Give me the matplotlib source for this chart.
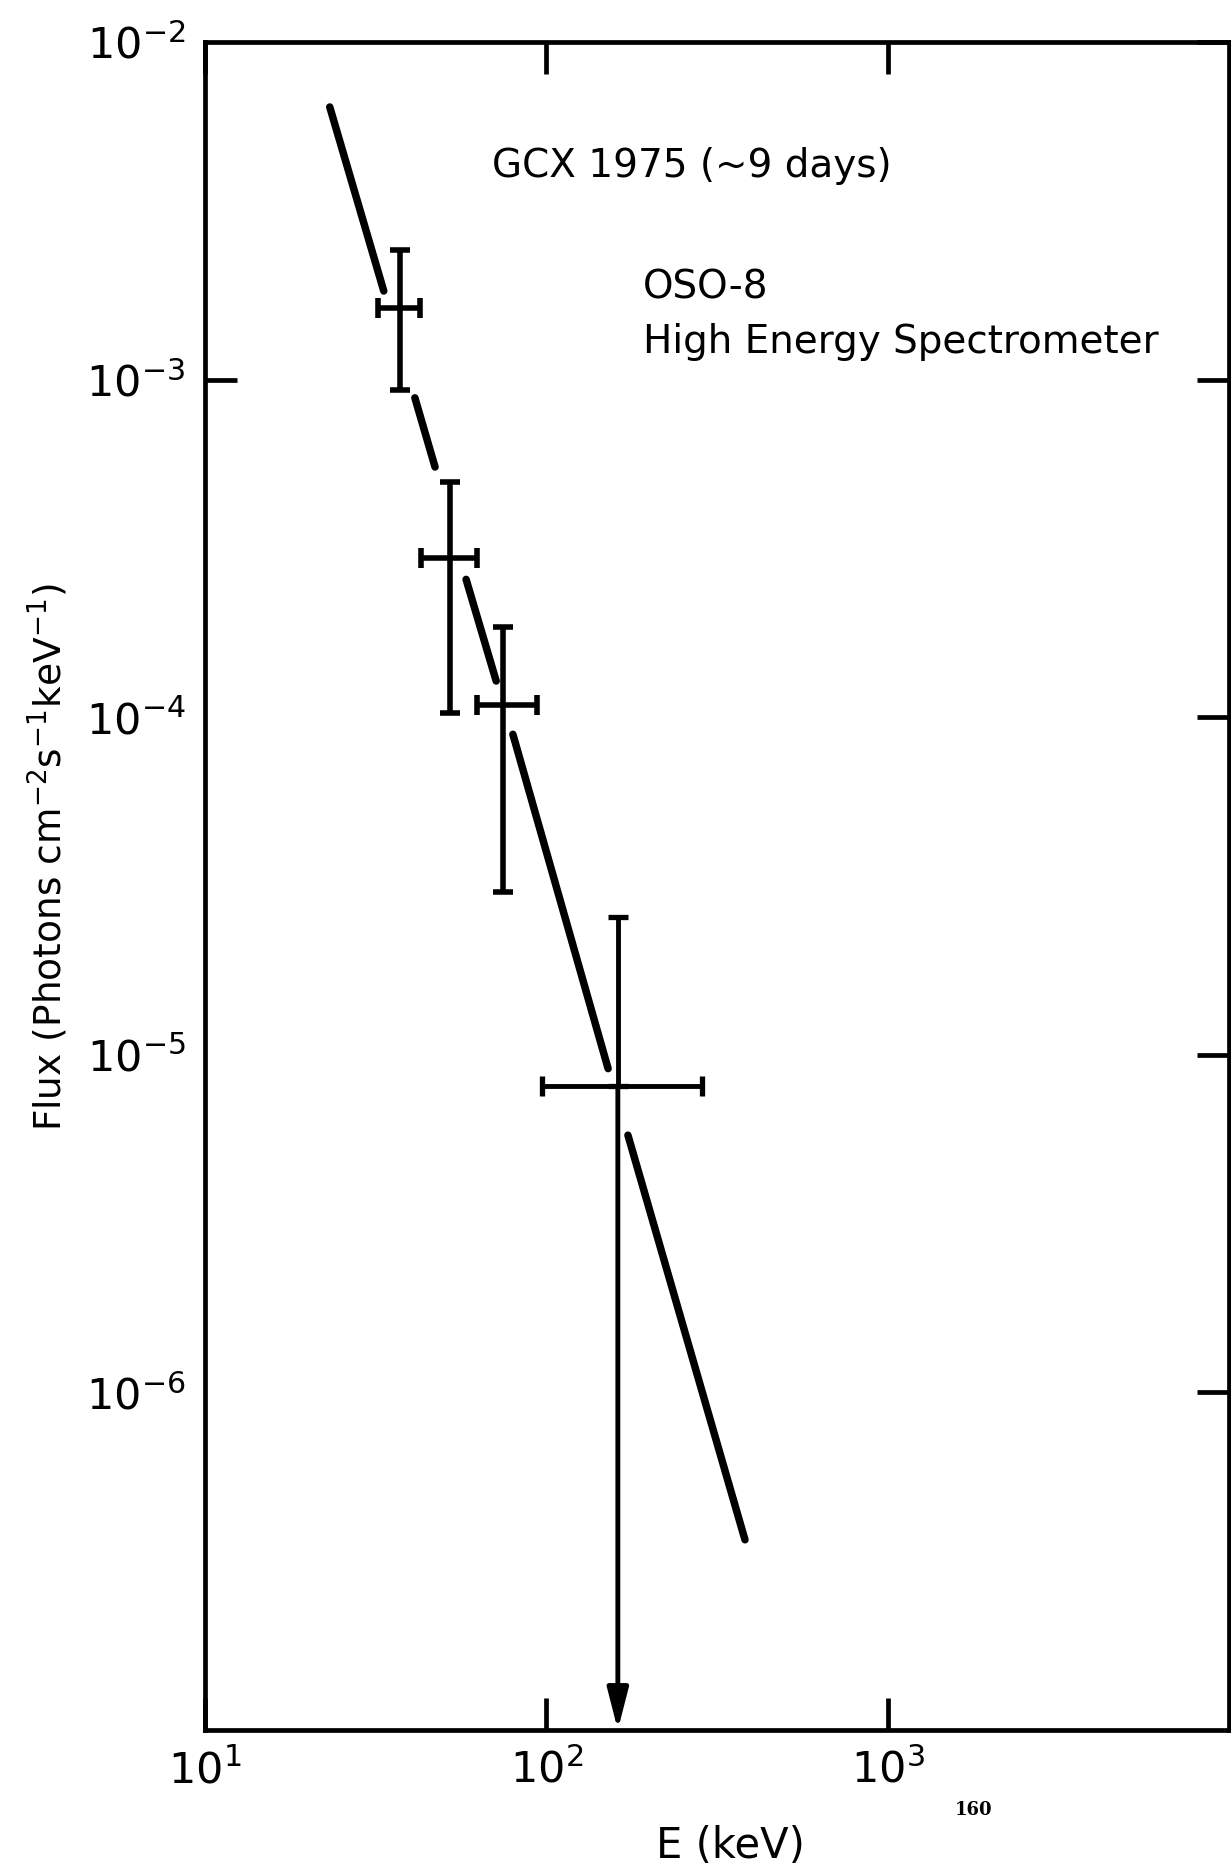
import matplotlib
matplotlib.use("Agg")
import matplotlib.pyplot as plt
import numpy as np

plt.rcParams['font.family'] = ['DejaVu Sans']
plt.rcParams['mathtext.default'] = 'regular'

# ---- data ----
energy = [37.3, 52.2, 74.6, 162.0]          # keV, point centres
energy_lo = [32.2, 42.9, 62.7, 97.0]        # keV, left end of x error bar
energy_hi = [42.7, 62.7, 94.0, 286.0]       # keV, right end of x error bar
flux = [1.63e-3, 2.96e-4, 1.09e-4, 8.1e-6]  # photons cm^-2 s^-1 keV^-1
flux_hi = [2.42e-3, 4.97e-4, 1.85e-4, 2.56e-5]
flux_lo = [9.3e-4, 1.03e-4, 3.03e-5]        # last point: downward arrow (upper limit)
arrow_floor = 1e-7

# power-law fit, drawn as broken segments around the error bars
seg_E_start = [23.2, 41.2, 58.2, 79.8, 173.4]
seg_E_end = [33.4, 47.2, 71.3, 151.7, 381.9]
seg_F_start = [6.42e-3, 8.83e-4, 2.56e-4, 8.9e-5, 5.78e-6]
seg_F_end = [1.83e-3, 5.51e-4, 1.28e-4, 9.1e-6, 3.66e-7]

x_ticks = [1e1, 1e2, 1e3]
x_ticklabels = ['$10^1$', '$10^2$', '$10^3$']
y_ticks = [1e-6, 1e-5, 1e-4, 1e-3, 1e-2]
y_ticklabels = ['$10^{-6}$', '$10^{-5}$', '$10^{-4}$', '$10^{-3}$', '$10^{-2}$']
left_tick_shown = [1e-3]

W, H = 1231, 1872
fig = plt.figure(figsize=(W / 100, H / 100), dpi=100)
fig.patch.set_facecolor('white')
left, right, top, bottom = 205, 1229, 42, 1730
ax = fig.add_axes([left / W, 1 - bottom / H, (right - left) / W, (bottom - top) / H])

ax.set_xscale('log')
ax.set_yscale('log')
ax.set_xlim(1e1, 1e4)
ax.set_ylim(1e-7, 1e-2)

# fitted spectrum segments
for es, ee, fs, fe in zip(seg_E_start, seg_E_end, seg_F_start, seg_F_end):
    ax.plot([es, ee], [fs, fe], color='black', lw=5.4, solid_capstyle='round')

# error bars for the first three points
n = len(flux_lo)
e = np.array(energy[:n]); f = np.array(flux[:n])
xerr = [e - np.array(energy_lo[:n]), np.array(energy_hi[:n]) - e]
yerr = [f - np.array(flux_lo), np.array(flux_hi[:n]) - f]
ax.errorbar(e, f, xerr=xerr, yerr=yerr, fmt='none', ecolor='black',
            elinewidth=4.0, capsize=7, capthick=4.0)

# last point: upper part with cap, lower part as arrow to the axis
e4, f4 = energy[n], flux[n]
ax.errorbar([e4], [f4], xerr=[[e4 - energy_lo[n]], [energy_hi[n] - e4]],
            yerr=[[0], [flux_hi[n] - f4]], fmt='none', ecolor='black',
            elinewidth=3.5, capsize=7, capthick=3.8)
ax.annotate('', xy=(e4, arrow_floor), xytext=(e4, f4),
            arrowprops=dict(arrowstyle='-|>,head_length=1.25,head_width=0.32',
                            mutation_scale=20, lw=3.5, color='black',
                            shrinkA=0, shrinkB=0), annotation_clip=False)

# axes styling
for s in ax.spines.values():
    s.set_linewidth(3.4)
ax.minorticks_off()
ax.set_xticks(x_ticks)
ax.set_xticklabels(x_ticklabels)
ax.set_yticks(y_ticks)
ax.set_yticklabels(y_ticklabels)
ax.tick_params(axis='both', which='major', direction='in', length=23, width=3.4,
               top=True, right=True, labelsize=31)
ax.tick_params(axis='x', pad=14)
ax.tick_params(axis='y', pad=14)
for loc, tk in zip(y_ticks, ax.yaxis.get_major_ticks()):
    if loc not in left_tick_shown:
        tk.tick1line.set_visible(False)

ax.set_xlabel('E (keV)', fontsize=30, va='center')
ax.xaxis.set_label_coords(0.513, -0.069)
ax.set_ylabel('Flux (Photons cm$^{-2}$s$^{-1}$keV$^{-1}$)', fontsize=27, va='center')
ax.yaxis.set_label_coords(-0.153, 0.517)

ax.text(0.280, 0.920, 'GCX 1975 (~9 days)', transform=ax.transAxes,
        fontsize=28, va='baseline', ha='left')
ax.text(0.428, 0.848, 'OSO-8', transform=ax.transAxes,
        fontsize=28, va='baseline', ha='left')
ax.text(0.428, 0.816, 'High Energy Spectrometer', transform=ax.transAxes,
        fontsize=28, va='baseline', ha='left')

fig.text(955 / W, 1 - 1810 / H, '160', fontsize=13, fontweight='bold',
         family='DejaVu Serif', ha='left', va='center')

fig.savefig('out.png', dpi=100, facecolor='white')
